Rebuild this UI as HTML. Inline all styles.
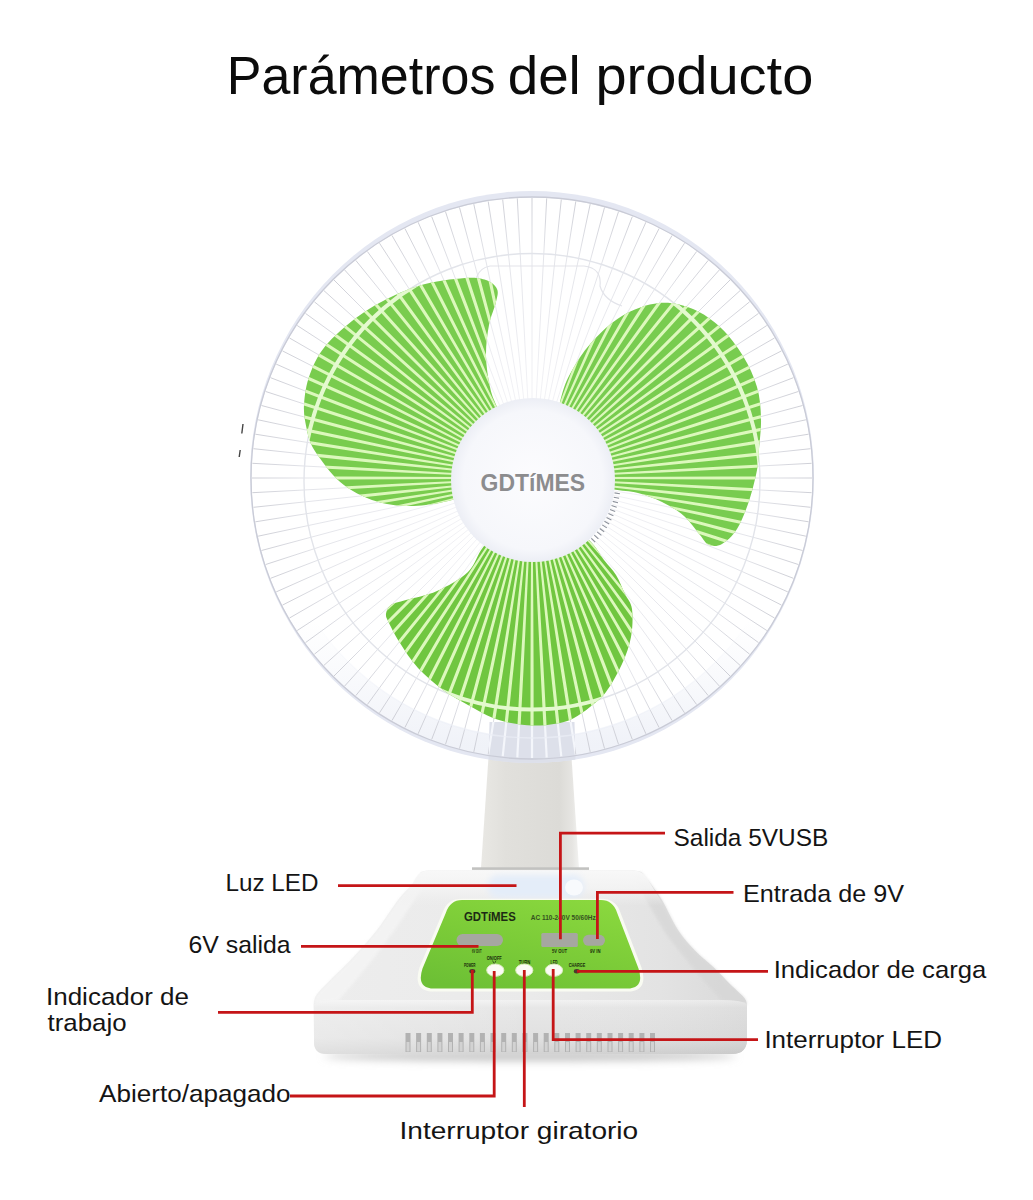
<!DOCTYPE html>
<html><head><meta charset="utf-8"><title>Parámetros del producto</title>
<style>html,body{margin:0;padding:0;background:#fff;}body{width:1033px;height:1200px;overflow:hidden;font-family:"Liberation Sans",sans-serif;}svg{display:block}</style>
</head><body>
<svg width="1033" height="1200" viewBox="0 0 1033 1200">
<defs>
<clipPath id="blades"><path d="M512.0 440.0 C513.2 426.5 500.7 415.8 497.0 407.0 C493.3 398.2 491.8 395.5 490.0 387.0 C488.2 378.5 486.2 366.3 486.0 356.0 C485.8 345.7 487.3 334.0 489.0 325.0 C490.7 316.0 494.7 308.0 496.0 302.0 C497.3 296.0 498.7 292.7 497.0 289.0 C495.3 285.3 491.3 281.8 486.0 280.0 C480.7 278.2 476.3 277.0 465.0 278.0 C453.7 279.0 434.0 280.8 418.0 286.0 C402.0 291.2 384.0 299.5 369.0 309.0 C354.0 318.5 337.8 332.2 328.0 343.0 C318.2 353.8 314.0 363.7 310.0 374.0 C306.0 384.3 304.6 396.0 304.0 405.0 C303.4 414.0 305.3 421.5 306.5 428.0 C307.7 434.5 308.9 439.2 311.0 444.0 C313.1 448.8 315.3 451.8 319.0 457.0 C322.7 462.2 328.2 469.8 333.0 475.0 C337.8 480.2 342.3 484.2 348.0 488.0 C353.7 491.8 360.5 495.3 367.0 498.0 C373.5 500.7 380.5 502.7 387.0 504.0 C393.5 505.3 399.5 505.8 406.0 506.0 C412.5 506.2 418.3 506.0 426.0 505.0 C433.7 504.0 441.3 502.8 452.0 500.0 C462.7 497.2 480.0 498.0 490.0 488.0 C500.0 478.0 510.8 453.5 512.0 440.0Z"/><path d="M552.0 445.0 C549.5 432.0 557.0 413.8 560.0 402.0 C563.0 390.2 564.8 383.8 570.0 374.0 C575.2 364.2 582.3 352.7 591.0 343.0 C599.7 333.3 610.7 322.7 622.0 316.0 C633.3 309.3 647.2 304.2 659.0 303.0 C670.8 301.8 682.7 304.8 693.0 309.0 C703.3 313.2 712.7 320.2 721.0 328.0 C729.3 335.8 737.0 346.2 743.0 356.0 C749.0 365.8 754.0 376.7 757.0 387.0 C760.0 397.3 760.7 407.7 761.0 418.0 C761.3 428.3 759.7 440.3 759.0 449.0 C758.3 457.7 758.7 461.3 757.0 470.0 C755.3 478.7 752.3 491.2 749.0 501.0 C745.7 510.8 741.5 521.8 737.0 529.0 C732.5 536.2 726.7 541.3 722.0 544.0 C717.3 546.7 712.7 546.5 709.0 545.0 C705.3 543.5 704.2 539.8 700.0 535.0 C695.8 530.2 690.3 521.5 684.0 516.0 C677.7 510.5 669.7 505.8 662.0 502.0 C654.3 498.2 646.3 495.2 638.0 493.0 C629.7 490.8 622.5 491.2 612.0 489.0 C601.5 486.8 585.0 487.3 575.0 480.0 C565.0 472.7 554.5 458.0 552.0 445.0Z"/><path d="M515.0 515.0 C502.3 520.2 491.8 536.5 484.0 546.0 C476.2 555.5 475.8 564.5 468.0 572.0 C460.2 579.5 447.3 586.3 437.0 591.0 C426.7 595.7 413.7 597.7 406.0 600.0 C398.3 602.3 394.3 602.7 391.0 605.0 C387.7 607.3 386.3 611.0 386.0 614.0 C385.7 617.0 386.7 618.2 389.0 623.0 C391.3 627.8 395.2 635.5 400.0 643.0 C404.8 650.5 410.8 660.2 418.0 668.0 C425.2 675.8 434.7 683.8 443.0 690.0 C451.3 696.2 459.7 700.3 468.0 705.0 C476.3 709.7 484.8 714.8 493.0 718.0 C501.2 721.2 509.2 722.8 517.0 724.0 C524.8 725.2 532.8 725.7 540.0 725.5 C547.2 725.3 554.3 724.2 560.0 723.0 C565.7 721.8 569.0 720.7 574.0 718.0 C579.0 715.3 584.7 711.3 590.0 707.0 C595.3 702.7 600.7 699.2 606.0 692.0 C611.3 684.8 617.8 673.2 622.0 664.0 C626.2 654.8 629.3 646.2 631.0 637.0 C632.7 627.8 633.0 616.2 632.0 609.0 C631.0 601.8 627.7 599.7 625.0 594.0 C622.3 588.3 619.5 580.7 616.0 575.0 C612.5 569.3 608.3 565.7 604.0 560.0 C599.7 554.3 597.3 548.5 590.0 541.0 C582.7 533.5 572.5 519.3 560.0 515.0 C547.5 510.7 527.7 509.8 515.0 515.0Z"/></clipPath>
<clipPath id="grillclip"><ellipse cx="532" cy="477.0" rx="282.0" ry="286.0"/></clipPath>
<clipPath id="patch"><path d="M489.5 722 L574.5 722 L575.5 766 L488.5 766 Z"/></clipPath>
<radialGradient id="lg" gradientUnits="userSpaceOnUse" cx="532" cy="478" r="281"><stop offset="0.3" stop-color="#f0f0f4"/><stop offset="0.8" stop-color="#e0e1e7"/><stop offset="1" stop-color="#c8c9d1"/></radialGradient>
<linearGradient id="neck" x1="0" x2="1" y1="0" y2="0"><stop offset="0" stop-color="#e9e8e4"/><stop offset="0.25" stop-color="#e1e0dc"/><stop offset="0.8" stop-color="#dcdbd7"/><stop offset="0.93" stop-color="#e6e5e2"/><stop offset="1" stop-color="#f2f2f0"/></linearGradient>
<linearGradient id="basetop" gradientUnits="userSpaceOnUse" x1="314" x2="747" y1="0" y2="0"><stop offset="0" stop-color="#ededed"/><stop offset="0.5" stop-color="#eaeaea"/><stop offset="0.8" stop-color="#e3e3e3"/><stop offset="1" stop-color="#d9d9d9"/></linearGradient>
<linearGradient id="plate" x1="0" x2="0" y1="0" y2="1"><stop offset="0" stop-color="#f8f8f8"/><stop offset="0.5" stop-color="#f4f4f4" stop-opacity="0.9"/><stop offset="1" stop-color="#f0f0f0" stop-opacity="0"/></linearGradient>
<linearGradient id="basefront" x1="0" x2="0" y1="0" y2="1"><stop offset="0" stop-color="#f2f2f2"/><stop offset="0.14" stop-color="#e7e7e7"/><stop offset="0.7" stop-color="#e1e1e1"/><stop offset="1" stop-color="#d2d2d2"/></linearGradient>
<linearGradient id="frontshade" gradientUnits="userSpaceOnUse" x1="314" x2="747" y1="0" y2="0"><stop offset="0" stop-color="#ffffff" stop-opacity="0.3"/><stop offset="0.5" stop-color="#ffffff" stop-opacity="0"/><stop offset="1" stop-color="#000000" stop-opacity="0.04"/></linearGradient>
<linearGradient id="panel" x1="0.2" x2="0.8" y1="1" y2="0"><stop offset="0" stop-color="#6dc035"/><stop offset="0.5" stop-color="#7ccc38"/><stop offset="1" stop-color="#8ad83e"/></linearGradient>
<radialGradient id="hub" cx="0.5" cy="0.5" r="0.5"><stop offset="0" stop-color="#fcfcfe"/><stop offset="0.85" stop-color="#f6f7fb"/><stop offset="1" stop-color="#eceef5"/></radialGradient>
<linearGradient id="band" gradientUnits="userSpaceOnUse" x1="0" x2="0" y1="620" y2="745"><stop offset="0" stop-color="#eef1f8" stop-opacity="0"/><stop offset="1" stop-color="#ebeef6" stop-opacity="0.75"/></linearGradient>
<filter id="blur3" x="-20%" y="-200%" width="140%" height="500%"><feGaussianBlur stdDeviation="4"/></filter>
<filter id="blur2" x="-20%" y="-50%" width="140%" height="200%"><feGaussianBlur stdDeviation="3"/></filter>
<filter id="blur1" x="-20%" y="-50%" width="140%" height="200%"><feGaussianBlur stdDeviation="1.5"/></filter>
</defs>
<rect width="1033" height="1200" fill="#ffffff"/>
<path d="M490 735 L570 735 L579 868 L481 868 Z" fill="url(#neck)"/>
<ellipse cx="532" cy="477" rx="282" ry="286" fill="#e4e7f2"/>
<ellipse cx="532" cy="478" rx="280.5" ry="280.5" fill="#ffffff"/>
<ellipse cx="532" cy="478" rx="260" ry="260" fill="#ffffff"/>
<ellipse cx="532" cy="478" rx="270.5" ry="270.5" fill="none" stroke="url(#band)" stroke-width="21"/>
<g clip-path="url(#grillclip)"><path d="M489.5 722 L574.5 722 L575.5 766 L488.5 766 Z" fill="#dde0ea"/></g>
<path d="M478 300 Q470 270 490 266 L584 266 Q602 268 600 286 Q604 300 622 306" fill="none" stroke="#e3e4ea" stroke-width="1.2"/>
<path d="M532.0 412.0 L532.0 198.0M535.5 412.1 L546.7 198.4M538.9 412.4 L561.3 199.5M542.3 412.8 L575.8 201.4M545.7 413.4 L590.2 204.1M549.1 414.2 L604.5 207.5M552.4 415.2 L618.5 211.7M555.7 416.4 L632.3 216.6M558.8 417.7 L645.9 222.2M562.0 419.2 L659.1 228.5M565.0 420.8 L672.0 235.5M567.9 422.6 L684.5 243.2M570.8 424.6 L696.6 251.5M573.5 426.7 L708.2 260.4M576.2 429.0 L719.4 269.9M578.7 431.3 L730.0 280.0M581.0 433.8 L740.1 290.6M583.3 436.5 L749.6 301.8M585.4 439.2 L758.5 313.4M587.4 442.1 L766.8 325.5M589.2 445.0 L774.5 338.0M590.8 448.0 L781.5 350.9M592.3 451.2 L787.8 364.1M593.6 454.3 L793.4 377.7M594.8 457.6 L798.3 391.5M595.8 460.9 L802.5 405.5M596.6 464.3 L805.9 419.8M597.2 467.7 L808.6 434.2M597.6 471.1 L810.5 448.7M597.9 474.5 L811.6 463.3M598.0 478.0 L812.0 478.0M597.9 481.5 L811.6 492.7M597.6 484.9 L810.5 507.3M597.2 488.3 L808.6 521.8M596.6 491.7 L805.9 536.2M595.8 495.1 L802.5 550.5M594.8 498.4 L798.3 564.5M593.6 501.7 L793.4 578.3M592.3 504.8 L787.8 591.9M590.8 508.0 L781.5 605.1M589.2 511.0 L774.5 618.0M587.4 513.9 L766.8 630.5M585.4 516.8 L758.5 642.6M583.3 519.5 L749.6 654.2M581.0 522.2 L740.1 665.4M578.7 524.7 L730.0 676.0M576.2 527.0 L719.4 686.1M573.5 529.3 L708.2 695.6M570.8 531.4 L696.6 704.5M567.9 533.4 L684.5 712.8M565.0 535.2 L672.0 720.5M562.0 536.8 L659.1 727.5M558.8 538.3 L645.9 733.8M555.7 539.6 L632.3 739.4M552.4 540.8 L618.5 744.3M549.1 541.8 L604.5 748.5M545.7 542.6 L590.2 751.9M542.3 543.2 L575.8 754.6M538.9 543.6 L561.3 756.5M535.5 543.9 L546.7 757.6M532.0 544.0 L532.0 758.0M528.5 543.9 L517.3 757.6M525.1 543.6 L502.7 756.5M521.7 543.2 L488.2 754.6M518.3 542.6 L473.8 751.9M514.9 541.8 L459.5 748.5M511.6 540.8 L445.5 744.3M508.3 539.6 L431.7 739.4M505.2 538.3 L418.1 733.8M502.0 536.8 L404.9 727.5M499.0 535.2 L392.0 720.5M496.1 533.4 L379.5 712.8M493.2 531.4 L367.4 704.5M490.5 529.3 L355.8 695.6M487.8 527.0 L344.6 686.1M485.3 524.7 L334.0 676.0M483.0 522.2 L323.9 665.4M480.7 519.5 L314.4 654.2M478.6 516.8 L305.5 642.6M476.6 513.9 L297.2 630.5M474.8 511.0 L289.5 618.0M473.2 508.0 L282.5 605.1M471.7 504.8 L276.2 591.9M470.4 501.7 L270.6 578.3M469.2 498.4 L265.7 564.5M468.2 495.1 L261.5 550.5M467.4 491.7 L258.1 536.2M466.8 488.3 L255.4 521.8M466.4 484.9 L253.5 507.3M466.1 481.5 L252.4 492.7M466.0 478.0 L252.0 478.0M466.1 474.5 L252.4 463.3M466.4 471.1 L253.5 448.7M466.8 467.7 L255.4 434.2M467.4 464.3 L258.1 419.8M468.2 460.9 L261.5 405.5M469.2 457.6 L265.7 391.5M470.4 454.3 L270.6 377.7M471.7 451.2 L276.2 364.1M473.2 448.0 L282.5 350.9M474.8 445.0 L289.5 338.0M476.6 442.1 L297.2 325.5M478.6 439.2 L305.5 313.4M480.7 436.5 L314.4 301.8M483.0 433.8 L323.9 290.6M485.3 431.3 L334.0 280.0M487.8 429.0 L344.6 269.9M490.5 426.7 L355.8 260.4M493.2 424.6 L367.4 251.5M496.1 422.6 L379.5 243.2M499.0 420.8 L392.0 235.5M502.0 419.2 L404.9 228.5M505.2 417.7 L418.1 222.2M508.3 416.4 L431.7 216.6M511.6 415.2 L445.5 211.7M514.9 414.2 L459.5 207.5M518.3 413.4 L473.8 204.1M521.7 412.8 L488.2 201.4M525.1 412.4 L502.7 199.5M528.5 412.1 L517.3 198.4" stroke="url(#lg)" stroke-width="0.9" fill="none"/>
<g clip-path="url(#grillclip)"><g clip-path="url(#patch)"><path d="M532.0 412.0 L532.0 198.0M535.5 412.1 L546.7 198.4M538.9 412.4 L561.3 199.5M542.3 412.8 L575.8 201.4M545.7 413.4 L590.2 204.1M549.1 414.2 L604.5 207.5M552.4 415.2 L618.5 211.7M555.7 416.4 L632.3 216.6M558.8 417.7 L645.9 222.2M562.0 419.2 L659.1 228.5M565.0 420.8 L672.0 235.5M567.9 422.6 L684.5 243.2M570.8 424.6 L696.6 251.5M573.5 426.7 L708.2 260.4M576.2 429.0 L719.4 269.9M578.7 431.3 L730.0 280.0M581.0 433.8 L740.1 290.6M583.3 436.5 L749.6 301.8M585.4 439.2 L758.5 313.4M587.4 442.1 L766.8 325.5M589.2 445.0 L774.5 338.0M590.8 448.0 L781.5 350.9M592.3 451.2 L787.8 364.1M593.6 454.3 L793.4 377.7M594.8 457.6 L798.3 391.5M595.8 460.9 L802.5 405.5M596.6 464.3 L805.9 419.8M597.2 467.7 L808.6 434.2M597.6 471.1 L810.5 448.7M597.9 474.5 L811.6 463.3M598.0 478.0 L812.0 478.0M597.9 481.5 L811.6 492.7M597.6 484.9 L810.5 507.3M597.2 488.3 L808.6 521.8M596.6 491.7 L805.9 536.2M595.8 495.1 L802.5 550.5M594.8 498.4 L798.3 564.5M593.6 501.7 L793.4 578.3M592.3 504.8 L787.8 591.9M590.8 508.0 L781.5 605.1M589.2 511.0 L774.5 618.0M587.4 513.9 L766.8 630.5M585.4 516.8 L758.5 642.6M583.3 519.5 L749.6 654.2M581.0 522.2 L740.1 665.4M578.7 524.7 L730.0 676.0M576.2 527.0 L719.4 686.1M573.5 529.3 L708.2 695.6M570.8 531.4 L696.6 704.5M567.9 533.4 L684.5 712.8M565.0 535.2 L672.0 720.5M562.0 536.8 L659.1 727.5M558.8 538.3 L645.9 733.8M555.7 539.6 L632.3 739.4M552.4 540.8 L618.5 744.3M549.1 541.8 L604.5 748.5M545.7 542.6 L590.2 751.9M542.3 543.2 L575.8 754.6M538.9 543.6 L561.3 756.5M535.5 543.9 L546.7 757.6M532.0 544.0 L532.0 758.0M528.5 543.9 L517.3 757.6M525.1 543.6 L502.7 756.5M521.7 543.2 L488.2 754.6M518.3 542.6 L473.8 751.9M514.9 541.8 L459.5 748.5M511.6 540.8 L445.5 744.3M508.3 539.6 L431.7 739.4M505.2 538.3 L418.1 733.8M502.0 536.8 L404.9 727.5M499.0 535.2 L392.0 720.5M496.1 533.4 L379.5 712.8M493.2 531.4 L367.4 704.5M490.5 529.3 L355.8 695.6M487.8 527.0 L344.6 686.1M485.3 524.7 L334.0 676.0M483.0 522.2 L323.9 665.4M480.7 519.5 L314.4 654.2M478.6 516.8 L305.5 642.6M476.6 513.9 L297.2 630.5M474.8 511.0 L289.5 618.0M473.2 508.0 L282.5 605.1M471.7 504.8 L276.2 591.9M470.4 501.7 L270.6 578.3M469.2 498.4 L265.7 564.5M468.2 495.1 L261.5 550.5M467.4 491.7 L258.1 536.2M466.8 488.3 L255.4 521.8M466.4 484.9 L253.5 507.3M466.1 481.5 L252.4 492.7M466.0 478.0 L252.0 478.0M466.1 474.5 L252.4 463.3M466.4 471.1 L253.5 448.7M466.8 467.7 L255.4 434.2M467.4 464.3 L258.1 419.8M468.2 460.9 L261.5 405.5M469.2 457.6 L265.7 391.5M470.4 454.3 L270.6 377.7M471.7 451.2 L276.2 364.1M473.2 448.0 L282.5 350.9M474.8 445.0 L289.5 338.0M476.6 442.1 L297.2 325.5M478.6 439.2 L305.5 313.4M480.7 436.5 L314.4 301.8M483.0 433.8 L323.9 290.6M485.3 431.3 L334.0 280.0M487.8 429.0 L344.6 269.9M490.5 426.7 L355.8 260.4M493.2 424.6 L367.4 251.5M496.1 422.6 L379.5 243.2M499.0 420.8 L392.0 235.5M502.0 419.2 L404.9 228.5M505.2 417.7 L418.1 222.2M508.3 416.4 L431.7 216.6M511.6 415.2 L445.5 211.7M514.9 414.2 L459.5 207.5M518.3 413.4 L473.8 204.1M521.7 412.8 L488.2 201.4M525.1 412.4 L502.7 199.5M528.5 412.1 L517.3 198.4" stroke="#f4f6fb" stroke-width="2.2" fill="none"/></g></g>
<circle cx="532" cy="481.5" r="228" fill="none" stroke="#e2e4ea" stroke-width="1.4"/>
<ellipse cx="532" cy="478" rx="260" ry="260" fill="none" stroke="url(#band)" stroke-width="1.4"/>
<path d="M512.0 440.0 C513.2 426.5 500.7 415.8 497.0 407.0 C493.3 398.2 491.8 395.5 490.0 387.0 C488.2 378.5 486.2 366.3 486.0 356.0 C485.8 345.7 487.3 334.0 489.0 325.0 C490.7 316.0 494.7 308.0 496.0 302.0 C497.3 296.0 498.7 292.7 497.0 289.0 C495.3 285.3 491.3 281.8 486.0 280.0 C480.7 278.2 476.3 277.0 465.0 278.0 C453.7 279.0 434.0 280.8 418.0 286.0 C402.0 291.2 384.0 299.5 369.0 309.0 C354.0 318.5 337.8 332.2 328.0 343.0 C318.2 353.8 314.0 363.7 310.0 374.0 C306.0 384.3 304.6 396.0 304.0 405.0 C303.4 414.0 305.3 421.5 306.5 428.0 C307.7 434.5 308.9 439.2 311.0 444.0 C313.1 448.8 315.3 451.8 319.0 457.0 C322.7 462.2 328.2 469.8 333.0 475.0 C337.8 480.2 342.3 484.2 348.0 488.0 C353.7 491.8 360.5 495.3 367.0 498.0 C373.5 500.7 380.5 502.7 387.0 504.0 C393.5 505.3 399.5 505.8 406.0 506.0 C412.5 506.2 418.3 506.0 426.0 505.0 C433.7 504.0 441.3 502.8 452.0 500.0 C462.7 497.2 480.0 498.0 490.0 488.0 C500.0 478.0 510.8 453.5 512.0 440.0Z" fill="#79cc4e"/>
<path d="M552.0 445.0 C549.5 432.0 557.0 413.8 560.0 402.0 C563.0 390.2 564.8 383.8 570.0 374.0 C575.2 364.2 582.3 352.7 591.0 343.0 C599.7 333.3 610.7 322.7 622.0 316.0 C633.3 309.3 647.2 304.2 659.0 303.0 C670.8 301.8 682.7 304.8 693.0 309.0 C703.3 313.2 712.7 320.2 721.0 328.0 C729.3 335.8 737.0 346.2 743.0 356.0 C749.0 365.8 754.0 376.7 757.0 387.0 C760.0 397.3 760.7 407.7 761.0 418.0 C761.3 428.3 759.7 440.3 759.0 449.0 C758.3 457.7 758.7 461.3 757.0 470.0 C755.3 478.7 752.3 491.2 749.0 501.0 C745.7 510.8 741.5 521.8 737.0 529.0 C732.5 536.2 726.7 541.3 722.0 544.0 C717.3 546.7 712.7 546.5 709.0 545.0 C705.3 543.5 704.2 539.8 700.0 535.0 C695.8 530.2 690.3 521.5 684.0 516.0 C677.7 510.5 669.7 505.8 662.0 502.0 C654.3 498.2 646.3 495.2 638.0 493.0 C629.7 490.8 622.5 491.2 612.0 489.0 C601.5 486.8 585.0 487.3 575.0 480.0 C565.0 472.7 554.5 458.0 552.0 445.0Z" fill="#78cc4f"/>
<path d="M515.0 515.0 C502.3 520.2 491.8 536.5 484.0 546.0 C476.2 555.5 475.8 564.5 468.0 572.0 C460.2 579.5 447.3 586.3 437.0 591.0 C426.7 595.7 413.7 597.7 406.0 600.0 C398.3 602.3 394.3 602.7 391.0 605.0 C387.7 607.3 386.3 611.0 386.0 614.0 C385.7 617.0 386.7 618.2 389.0 623.0 C391.3 627.8 395.2 635.5 400.0 643.0 C404.8 650.5 410.8 660.2 418.0 668.0 C425.2 675.8 434.7 683.8 443.0 690.0 C451.3 696.2 459.7 700.3 468.0 705.0 C476.3 709.7 484.8 714.8 493.0 718.0 C501.2 721.2 509.2 722.8 517.0 724.0 C524.8 725.2 532.8 725.7 540.0 725.5 C547.2 725.3 554.3 724.2 560.0 723.0 C565.7 721.8 569.0 720.7 574.0 718.0 C579.0 715.3 584.7 711.3 590.0 707.0 C595.3 702.7 600.7 699.2 606.0 692.0 C611.3 684.8 617.8 673.2 622.0 664.0 C626.2 654.8 629.3 646.2 631.0 637.0 C632.7 627.8 633.0 616.2 632.0 609.0 C631.0 601.8 627.7 599.7 625.0 594.0 C622.3 588.3 619.5 580.7 616.0 575.0 C612.5 569.3 608.3 565.7 604.0 560.0 C599.7 554.3 597.3 548.5 590.0 541.0 C582.7 533.5 572.5 519.3 560.0 515.0 C547.5 510.7 527.7 509.8 515.0 515.0Z" fill="#70c640"/>
<g clip-path="url(#blades)" fill="none">
<path d="M532.9 408.0 L533.3 348.0 L533.5 288.0 L533.6 195.0 L530.4 195.0 L530.5 288.0 L530.7 348.0 L531.1 408.0ZM536.6 408.1 L540.1 348.2 L543.5 288.3 L548.4 195.5 L545.2 195.3 L540.4 288.2 L537.5 348.1 L534.8 408.0ZM540.2 408.5 L546.9 348.8 L553.4 289.2 L563.2 196.7 L560.0 196.4 L550.3 288.9 L544.3 348.6 L538.4 408.3ZM543.8 409.0 L553.6 349.8 L563.3 290.6 L577.9 198.7 L574.7 198.2 L560.2 290.1 L551.1 349.4 L542.1 408.7ZM547.4 409.7 L560.3 351.1 L573.0 292.5 L592.4 201.5 L589.3 200.9 L570.0 291.8 L557.8 350.6 L545.7 409.3ZM551.0 410.6 L566.9 352.8 L582.7 294.9 L606.8 205.1 L603.7 204.2 L579.7 294.1 L564.4 352.1 L549.2 410.2ZM554.5 411.7 L573.4 354.8 L592.2 297.8 L621.0 209.3 L617.9 208.4 L589.2 296.8 L570.9 354.0 L552.8 411.1ZM557.9 413.0 L579.8 357.1 L601.5 301.2 L634.9 214.4 L631.9 213.2 L598.6 300.1 L577.4 356.2 L556.2 412.3ZM561.3 414.4 L586.1 359.8 L610.7 305.1 L648.6 220.1 L645.6 218.8 L607.9 303.8 L583.7 358.7 L559.6 413.7ZM564.6 416.0 L592.2 362.8 L619.6 309.4 L661.9 226.6 L659.1 225.1 L616.9 308.0 L589.9 361.6 L563.0 415.2ZM567.8 417.8 L598.1 366.1 L628.3 314.2 L674.9 233.7 L672.1 232.1 L625.7 312.7 L595.9 364.8 L566.2 416.9ZM570.9 419.8 L603.9 369.7 L636.8 319.5 L687.5 241.5 L684.8 239.8 L634.2 317.8 L601.7 368.3 L569.4 418.8ZM573.9 421.9 L609.5 373.6 L644.9 325.2 L699.6 250.0 L697.0 248.1 L642.4 323.4 L607.4 372.1 L572.4 420.8ZM576.8 424.2 L614.8 377.8 L652.8 331.3 L711.3 259.1 L708.9 257.1 L650.4 329.4 L612.8 376.2 L575.4 423.0ZM579.5 426.6 L620.0 382.3 L660.3 337.8 L722.6 268.8 L720.2 266.6 L658.0 335.8 L618.0 380.5 L578.2 425.4ZM582.1 429.1 L624.8 387.0 L667.4 344.7 L733.2 279.0 L731.0 276.8 L665.3 342.6 L623.0 385.2 L580.9 427.9ZM584.6 431.8 L629.5 392.0 L674.2 352.0 L743.4 289.8 L741.2 287.4 L672.2 349.7 L627.7 390.0 L583.4 430.5ZM587.0 434.6 L633.8 397.2 L680.6 359.6 L752.9 301.1 L750.9 298.7 L678.7 357.2 L632.2 395.2 L585.8 433.2ZM589.2 437.6 L637.9 402.6 L686.6 367.6 L761.9 313.0 L760.0 310.4 L684.8 365.1 L636.4 400.5 L588.1 436.1ZM591.2 440.6 L641.7 408.3 L692.2 375.8 L770.2 325.2 L768.5 322.5 L690.5 373.2 L640.3 406.1 L590.2 439.1ZM593.1 443.8 L645.2 414.1 L697.3 384.3 L777.9 337.9 L776.3 335.1 L695.8 381.7 L643.9 411.9 L592.2 442.2ZM594.8 447.0 L648.4 420.1 L702.0 393.1 L784.9 350.9 L783.4 348.1 L700.6 390.4 L647.2 417.8 L594.0 445.4ZM596.3 450.4 L651.3 426.3 L706.2 402.1 L791.2 364.4 L789.9 361.4 L704.9 399.3 L650.2 423.9 L595.6 448.7ZM597.7 453.8 L653.8 432.6 L709.9 411.4 L796.8 378.1 L795.6 375.1 L708.8 408.5 L652.9 430.2 L597.0 452.1ZM598.9 457.2 L656.0 439.1 L713.2 420.8 L801.6 392.1 L800.7 389.0 L712.2 417.8 L655.2 436.6 L598.3 455.5ZM599.8 460.8 L657.9 445.6 L715.9 430.3 L805.8 406.3 L804.9 403.2 L715.1 427.3 L657.2 443.1 L599.4 459.0ZM600.7 464.3 L659.4 452.2 L718.2 440.0 L809.1 420.7 L808.5 417.6 L717.5 437.0 L658.9 449.7 L600.3 462.6ZM601.3 467.9 L660.6 458.9 L719.9 449.8 L811.8 435.3 L811.3 432.1 L719.4 446.7 L660.2 456.4 L601.0 466.2ZM601.7 471.6 L661.4 465.7 L721.1 459.7 L813.6 450.0 L813.3 446.8 L720.8 456.6 L661.2 463.1 L601.5 469.8ZM602.0 475.2 L661.9 472.5 L721.8 469.6 L814.7 464.8 L814.5 461.6 L721.7 466.5 L661.8 469.9 L601.9 473.4ZM602.0 478.9 L662.0 479.3 L722.0 479.5 L815.0 479.6 L815.0 476.4 L722.0 476.4 L662.0 476.7 L602.0 477.1ZM601.9 482.6 L661.8 486.1 L721.7 489.5 L814.5 494.4 L814.7 491.2 L721.8 486.4 L661.9 483.5 L602.0 480.8ZM601.5 486.2 L661.2 492.9 L720.8 499.4 L813.3 509.2 L813.6 506.0 L721.1 496.3 L661.4 490.3 L601.7 484.4ZM601.0 489.8 L660.2 499.6 L719.4 509.3 L811.3 523.9 L811.8 520.7 L719.9 506.2 L660.6 497.1 L601.3 488.1ZM600.3 493.4 L658.9 506.3 L717.5 519.0 L808.5 538.4 L809.1 535.3 L718.2 516.0 L659.4 503.8 L600.7 491.7ZM599.4 497.0 L657.2 512.9 L715.1 528.7 L804.9 552.8 L805.8 549.7 L715.9 525.7 L657.9 510.4 L599.8 495.2ZM598.3 500.5 L655.2 519.4 L712.2 538.2 L800.7 567.0 L801.6 563.9 L713.2 535.2 L656.0 516.9 L598.9 498.8ZM597.0 503.9 L652.9 525.8 L708.8 547.5 L795.6 580.9 L796.8 577.9 L709.9 544.6 L653.8 523.4 L597.7 502.2ZM595.6 507.3 L650.2 532.1 L704.9 556.7 L789.9 594.6 L791.2 591.6 L706.2 553.9 L651.3 529.7 L596.3 505.6ZM594.0 510.6 L647.2 538.2 L700.6 565.6 L783.4 607.9 L784.9 605.1 L702.0 562.9 L648.4 535.9 L594.8 509.0ZM592.2 513.8 L643.9 544.1 L695.8 574.3 L776.3 620.9 L777.9 618.1 L697.3 571.7 L645.2 541.9 L593.1 512.2ZM590.2 516.9 L640.3 549.9 L690.5 582.8 L768.5 633.5 L770.2 630.8 L692.2 580.2 L641.7 547.7 L591.2 515.4ZM588.1 519.9 L636.4 555.5 L684.8 590.9 L760.0 645.6 L761.9 643.0 L686.6 588.4 L637.9 553.4 L589.2 518.4ZM585.8 522.8 L632.2 560.8 L678.7 598.8 L750.9 657.3 L752.9 654.9 L680.6 596.4 L633.8 558.8 L587.0 521.4ZM583.4 525.5 L627.7 566.0 L672.2 606.3 L741.2 668.6 L743.4 666.2 L674.2 604.0 L629.5 564.0 L584.6 524.2ZM580.9 528.1 L623.0 570.8 L665.3 613.4 L731.0 679.2 L733.2 677.0 L667.4 611.3 L624.8 569.0 L582.1 526.9ZM578.2 530.6 L618.0 575.5 L658.0 620.2 L720.2 689.4 L722.6 687.2 L660.3 618.2 L620.0 573.7 L579.5 529.4ZM575.4 533.0 L612.8 579.8 L650.4 626.6 L708.9 698.9 L711.3 696.9 L652.8 624.7 L614.8 578.2 L576.8 531.8ZM572.4 535.2 L607.4 583.9 L642.4 632.6 L697.0 707.9 L699.6 706.0 L644.9 630.8 L609.5 582.4 L573.9 534.1ZM569.4 537.2 L601.7 587.7 L634.2 638.2 L684.8 716.2 L687.5 714.5 L636.8 636.5 L603.9 586.3 L570.9 536.2ZM566.2 539.1 L595.9 591.2 L625.7 643.3 L672.1 723.9 L674.9 722.3 L628.3 641.8 L598.1 589.9 L567.8 538.2ZM563.0 540.8 L589.9 594.4 L616.9 648.0 L659.1 730.9 L661.9 729.4 L619.6 646.6 L592.2 593.2 L564.6 540.0ZM559.6 542.3 L583.7 597.3 L607.9 652.2 L645.6 737.2 L648.6 735.9 L610.7 650.9 L586.1 596.2 L561.3 541.6ZM556.2 543.7 L577.4 599.8 L598.6 655.9 L631.9 742.8 L634.9 741.6 L601.5 654.8 L579.8 598.9 L557.9 543.0ZM552.8 544.9 L570.9 602.0 L589.2 659.2 L617.9 747.6 L621.0 746.7 L592.2 658.2 L573.4 601.2 L554.5 544.3ZM549.2 545.8 L564.4 603.9 L579.7 661.9 L603.7 751.8 L606.8 750.9 L582.7 661.1 L566.9 603.2 L551.0 545.4ZM545.7 546.7 L557.8 605.4 L570.0 664.2 L589.3 755.1 L592.4 754.5 L573.0 663.5 L560.3 604.9 L547.4 546.3ZM542.1 547.3 L551.1 606.6 L560.2 665.9 L574.7 757.8 L577.9 757.3 L563.3 665.4 L553.6 606.2 L543.8 547.0ZM538.4 547.7 L544.3 607.4 L550.3 667.1 L560.0 759.6 L563.2 759.3 L553.4 666.8 L546.9 607.2 L540.2 547.5ZM534.8 548.0 L537.5 607.9 L540.4 667.8 L545.2 760.7 L548.4 760.5 L543.5 667.7 L540.1 607.8 L536.6 547.9ZM531.1 548.0 L530.7 608.0 L530.5 668.0 L530.4 761.0 L533.6 761.0 L533.6 668.0 L533.3 608.0 L532.9 548.0ZM527.4 547.9 L523.9 607.8 L520.5 667.7 L515.6 760.5 L518.8 760.7 L523.6 667.8 L526.5 607.9 L529.2 548.0ZM523.8 547.5 L517.1 607.2 L510.6 666.8 L500.8 759.3 L504.0 759.6 L513.7 667.1 L519.7 607.4 L525.6 547.7ZM520.2 547.0 L510.4 606.2 L500.7 665.4 L486.1 757.3 L489.3 757.8 L503.8 665.9 L512.9 606.6 L521.9 547.3ZM516.6 546.3 L503.7 604.9 L491.0 663.5 L471.6 754.5 L474.7 755.1 L494.0 664.2 L506.2 605.4 L518.3 546.7ZM513.0 545.4 L497.1 603.2 L481.3 661.1 L457.2 750.9 L460.3 751.8 L484.3 661.9 L499.6 603.9 L514.8 545.8ZM509.5 544.3 L490.6 601.2 L471.8 658.2 L443.0 746.7 L446.1 747.6 L474.8 659.2 L493.1 602.0 L511.2 544.9ZM506.1 543.0 L484.2 598.9 L462.5 654.8 L429.1 741.6 L432.1 742.8 L465.4 655.9 L486.6 599.8 L507.8 543.7ZM502.7 541.6 L477.9 596.2 L453.3 650.9 L415.4 735.9 L418.4 737.2 L456.1 652.2 L480.3 597.3 L504.4 542.3ZM499.4 540.0 L471.8 593.2 L444.4 646.6 L402.1 729.4 L404.9 730.9 L447.1 648.0 L474.1 594.4 L501.0 540.8ZM496.2 538.2 L465.9 589.9 L435.7 641.8 L389.1 722.3 L391.9 723.9 L438.3 643.3 L468.1 591.2 L497.8 539.1ZM493.1 536.2 L460.1 586.3 L427.2 636.5 L376.5 714.5 L379.2 716.2 L429.8 638.2 L462.3 587.7 L494.6 537.2ZM490.1 534.1 L454.5 582.4 L419.1 630.8 L364.4 706.0 L367.0 707.9 L421.6 632.6 L456.6 583.9 L491.6 535.2ZM487.2 531.8 L449.2 578.2 L411.2 624.7 L352.7 696.9 L355.1 698.9 L413.6 626.6 L451.2 579.8 L488.6 533.0ZM484.5 529.4 L444.0 573.7 L403.7 618.2 L341.4 687.2 L343.8 689.4 L406.0 620.2 L446.0 575.5 L485.8 530.6ZM481.9 526.9 L439.2 569.0 L396.6 611.3 L330.8 677.0 L333.0 679.2 L398.7 613.4 L441.0 570.8 L483.1 528.1ZM479.4 524.2 L434.5 564.0 L389.8 604.0 L320.6 666.2 L322.8 668.6 L391.8 606.3 L436.3 566.0 L480.6 525.5ZM477.0 521.4 L430.2 558.8 L383.4 596.4 L311.1 654.9 L313.1 657.3 L385.3 598.8 L431.8 560.8 L478.2 522.8ZM474.8 518.4 L426.1 553.4 L377.4 588.4 L302.1 643.0 L304.0 645.6 L379.2 590.9 L427.6 555.5 L475.9 519.9ZM472.8 515.4 L422.3 547.7 L371.8 580.2 L293.8 630.8 L295.5 633.5 L373.5 582.8 L423.7 549.9 L473.8 516.9ZM470.9 512.2 L418.8 541.9 L366.7 571.7 L286.1 618.1 L287.7 620.9 L368.2 574.3 L420.1 544.1 L471.8 513.8ZM469.2 509.0 L415.6 535.9 L362.0 562.9 L279.1 605.1 L280.6 607.9 L363.4 565.6 L416.8 538.2 L470.0 510.6ZM467.7 505.6 L412.7 529.7 L357.8 553.9 L272.8 591.6 L274.1 594.6 L359.1 556.7 L413.8 532.1 L468.4 507.3ZM466.3 502.2 L410.2 523.4 L354.1 544.6 L267.2 577.9 L268.4 580.9 L355.2 547.5 L411.1 525.8 L467.0 503.9ZM465.1 498.8 L408.0 516.9 L350.8 535.2 L262.4 563.9 L263.3 567.0 L351.8 538.2 L408.8 519.4 L465.7 500.5ZM464.2 495.2 L406.1 510.4 L348.1 525.7 L258.2 549.7 L259.1 552.8 L348.9 528.7 L406.8 512.9 L464.6 497.0ZM463.3 491.7 L404.6 503.8 L345.8 516.0 L254.9 535.3 L255.5 538.4 L346.5 519.0 L405.1 506.3 L463.7 493.4ZM462.7 488.1 L403.4 497.1 L344.1 506.2 L252.2 520.7 L252.7 523.9 L344.6 509.3 L403.8 499.6 L463.0 489.8ZM462.3 484.4 L402.6 490.3 L342.9 496.3 L250.4 506.0 L250.7 509.2 L343.2 499.4 L402.8 492.9 L462.5 486.2ZM462.0 480.8 L402.1 483.5 L342.2 486.4 L249.3 491.2 L249.5 494.4 L342.3 489.5 L402.2 486.1 L462.1 482.6ZM462.0 477.1 L402.0 476.7 L342.0 476.5 L249.0 476.4 L249.0 479.6 L342.0 479.6 L402.0 479.3 L462.0 478.9ZM462.1 473.4 L402.2 469.9 L342.3 466.5 L249.5 461.6 L249.3 464.8 L342.2 469.6 L402.1 472.5 L462.0 475.2ZM462.5 469.8 L402.8 463.1 L343.2 456.6 L250.7 446.8 L250.4 450.0 L342.9 459.7 L402.6 465.7 L462.3 471.6ZM463.0 466.2 L403.8 456.4 L344.6 446.7 L252.7 432.1 L252.2 435.3 L344.1 449.8 L403.4 458.9 L462.7 467.9ZM463.7 462.6 L405.1 449.7 L346.5 437.0 L255.5 417.6 L254.9 420.7 L345.8 440.0 L404.6 452.2 L463.3 464.3ZM464.6 459.0 L406.8 443.1 L348.9 427.3 L259.1 403.2 L258.2 406.3 L348.1 430.3 L406.1 445.6 L464.2 460.8ZM465.7 455.5 L408.8 436.6 L351.8 417.8 L263.3 389.0 L262.4 392.1 L350.8 420.8 L408.0 439.1 L465.1 457.2ZM467.0 452.1 L411.1 430.2 L355.2 408.5 L268.4 375.1 L267.2 378.1 L354.1 411.4 L410.2 432.6 L466.3 453.8ZM468.4 448.7 L413.8 423.9 L359.1 399.3 L274.1 361.4 L272.8 364.4 L357.8 402.1 L412.7 426.3 L467.7 450.4ZM470.0 445.4 L416.8 417.8 L363.4 390.4 L280.6 348.1 L279.1 350.9 L362.0 393.1 L415.6 420.1 L469.2 447.0ZM471.8 442.2 L420.1 411.9 L368.2 381.7 L287.7 335.1 L286.1 337.9 L366.7 384.3 L418.8 414.1 L470.9 443.8ZM473.8 439.1 L423.7 406.1 L373.5 373.2 L295.5 322.5 L293.8 325.2 L371.8 375.8 L422.3 408.3 L472.8 440.6ZM475.9 436.1 L427.6 400.5 L379.2 365.1 L304.0 310.4 L302.1 313.0 L377.4 367.6 L426.1 402.6 L474.8 437.6ZM478.2 433.2 L431.8 395.2 L385.3 357.2 L313.1 298.7 L311.1 301.1 L383.4 359.6 L430.2 397.2 L477.0 434.6ZM480.6 430.5 L436.3 390.0 L391.8 349.7 L322.8 287.4 L320.6 289.8 L389.8 352.0 L434.5 392.0 L479.4 431.8ZM483.1 427.9 L441.0 385.2 L398.7 342.6 L333.0 276.8 L330.8 279.0 L396.6 344.7 L439.2 387.0 L481.9 429.1ZM485.8 425.4 L446.0 380.5 L406.0 335.8 L343.8 266.6 L341.4 268.8 L403.7 337.8 L444.0 382.3 L484.5 426.6ZM488.6 423.0 L451.2 376.2 L413.6 329.4 L355.1 257.1 L352.7 259.1 L411.2 331.3 L449.2 377.8 L487.2 424.2ZM491.6 420.8 L456.6 372.1 L421.6 323.4 L367.0 248.1 L364.4 250.0 L419.1 325.2 L454.5 373.6 L490.1 421.9ZM494.6 418.8 L462.3 368.3 L429.8 317.8 L379.2 239.8 L376.5 241.5 L427.2 319.5 L460.1 369.7 L493.1 419.8ZM497.8 416.9 L468.1 364.8 L438.3 312.7 L391.9 232.1 L389.1 233.7 L435.7 314.2 L465.9 366.1 L496.2 417.8ZM501.0 415.2 L474.1 361.6 L447.1 308.0 L404.9 225.1 L402.1 226.6 L444.4 309.4 L471.8 362.8 L499.4 416.0ZM504.4 413.7 L480.3 358.7 L456.1 303.8 L418.4 218.8 L415.4 220.1 L453.3 305.1 L477.9 359.8 L502.7 414.4ZM507.8 412.3 L486.6 356.2 L465.4 300.1 L432.1 213.2 L429.1 214.4 L462.5 301.2 L484.2 357.1 L506.1 413.0ZM511.2 411.1 L493.1 354.0 L474.8 296.8 L446.1 208.4 L443.0 209.3 L471.8 297.8 L490.6 354.8 L509.5 411.7ZM514.8 410.2 L499.6 352.1 L484.3 294.1 L460.3 204.2 L457.2 205.1 L481.3 294.9 L497.1 352.8 L513.0 410.6ZM518.3 409.3 L506.2 350.6 L494.0 291.8 L474.7 200.9 L471.6 201.5 L491.0 292.5 L503.7 351.1 L516.6 409.7ZM521.9 408.7 L512.9 349.4 L503.8 290.1 L489.3 198.2 L486.1 198.7 L500.7 290.6 L510.4 349.8 L520.2 409.0ZM525.6 408.3 L519.7 348.6 L513.7 288.9 L504.0 196.4 L500.8 196.7 L510.6 289.2 L517.1 348.8 L523.8 408.5ZM529.2 408.0 L526.5 348.1 L523.6 288.2 L518.8 195.3 L515.6 195.5 L520.5 288.3 L523.9 348.2 L527.4 408.1Z" fill="#dcf8bc" stroke="none"/>
<circle cx="532" cy="481.5" r="228" stroke="#e4f9cf" stroke-width="4"/>
</g>
<ellipse cx="532" cy="478" rx="281" ry="281" fill="none" stroke="#c9cbd6" stroke-width="1.3"/>
<path d="M243 424 L241.8 433.5 M240.2 450 L239.2 457" stroke="#444" stroke-width="1.4" fill="none"/>
<path d="M614.5 492.9 L619.9 493.8M613.7 497.2 L619.1 498.3M612.7 501.4 L618.0 502.8M611.5 505.5 L616.7 507.2M610.0 509.6 L615.2 511.5M608.4 513.6 L613.4 515.8M606.5 517.5 L611.4 520.0M604.4 521.2 L609.2 524.0M602.2 524.9 L606.8 527.9M599.7 528.5 L604.2 531.7M597.1 531.9 L601.4 535.4M594.3 535.2 L598.4 538.9M591.3 538.3 L595.2 542.2" stroke="#8d929c" stroke-width="1.1" fill="none"/>
<circle cx="533" cy="480" r="82" fill="url(#hub)"/>
<text x="480.6" y="491" font-family="Liberation Sans, sans-serif" font-weight="bold" font-size="23" fill="#8c8c8e" textLength="104.5" lengthAdjust="spacingAndGlyphs">GDTíMES</text>
<ellipse cx="530" cy="1056" rx="206" ry="5" fill="#c4c4c4" filter="url(#blur3)"/>
<path d="M428 870.5 L634 870.5 Q638 870.5 641 872 C642.5 873.8 646.5 878.3 650.0 883.0 C653.5 887.7 657.3 892.2 662.0 900.0 C666.7 907.8 672.4 921.5 678.0 930.0 C683.6 938.5 689.6 944.9 695.4 951.0 C701.2 957.1 706.9 960.9 713.0 966.7 C719.1 972.5 726.8 980.8 732.0 986.0 C737.2 991.2 741.9 994.8 744.4 998.0 C746.9 1001.2 746.6 1003.8 747.0 1005.0 L747 1039 Q747 1054 732 1054 L329 1054 Q314 1054 314 1039 L313.6 1004 C314.1 1002.5 313.9 998.6 316.6 994.7 C319.3 990.8 323.7 986.8 329.7 980.7 C335.7 974.6 344.6 966.5 352.5 958.0 C360.4 949.5 369.4 939.7 377.0 930.0 C384.6 920.3 391.9 907.9 398.0 900.0 C404.1 892.1 409.9 887.4 413.7 882.7 C417.5 878.0 419.8 873.8 421.0 872.0 Q424 870.5 428 870.5 Z" fill="url(#basetop)"/>
<path d="M641 872 C642.5 873.8 646.5 878.3 650.0 883.0 C653.5 887.7 657.3 892.2 662.0 900.0 C666.7 907.8 672.4 921.5 678.0 930.0 C683.6 938.5 689.6 944.9 695.4 951.0 C701.2 957.1 706.9 960.9 713.0 966.7 C719.1 972.5 726.8 980.8 732.0 986.0 C737.2 991.2 741.9 994.8 744.4 998.0 C746.9 1001.2 746.6 1003.8 747.0 1005.0 L722 1001 Q690 966 666 934 Q650 908 634 876 Z" fill="#d6d6d6" opacity="0.7" filter="url(#blur1)"/>
<path d="M313.6 1004 C314.1 1002.5 313.9 998.6 316.6 994.7 C319.3 990.8 323.7 986.8 329.7 980.7 C335.7 974.6 344.6 966.5 352.5 958.0 C360.4 949.5 369.4 939.7 377.0 930.0 C384.6 920.3 391.9 907.9 398.0 900.0 C404.1 892.1 409.9 887.4 413.7 882.7 C417.5 878.0 419.8 873.8 421.0 872.0 L430 876 Q412 904 396 928 Q372 962 338 1001 Z" fill="#f6f6f6" opacity="0.75" filter="url(#blur1)"/>
<path d="M427 870.5 L635 870.5 Q644 871 650 883 L664 906 L398 906 L413 883 Q418 871 427 870.5 Z" fill="url(#plate)"/>
<path d="M314 1004 Q320 1000 340 1000 L722 1000 Q741 1000 747 1004 L747 1039 Q747 1054 732 1054 L326 1054 Q314 1054 314 1042 Z" fill="url(#basefront)"/>
<path d="M314 1004 Q320 1000 340 1000 L722 1000 Q741 1000 747 1004 L747 1039 Q747 1054 732 1054 L326 1054 Q314 1054 314 1042 Z" fill="url(#frontshade)"/>
<rect x="488" y="875" width="96" height="23" rx="10" fill="#e4edf9" filter="url(#blur2)"/>
<ellipse cx="574" cy="887.5" rx="9" ry="8" fill="#f8fafd"/>
<rect x="472" y="867.3" width="117" height="2.6" fill="#c2c2c0"/>
<rect x="405.5" y="1033" width="5" height="19" fill="#b2b2b2"/><rect x="406.5" y="1042" width="3" height="9.5" fill="#d2d2d2"/><rect x="416.1" y="1033" width="5" height="19" fill="#b2b2b2"/><rect x="417.1" y="1042" width="3" height="9.5" fill="#d2d2d2"/><rect x="426.8" y="1033" width="5" height="19" fill="#b2b2b2"/><rect x="427.8" y="1042" width="3" height="9.5" fill="#d2d2d2"/><rect x="437.4" y="1033" width="5" height="19" fill="#b2b2b2"/><rect x="438.4" y="1042" width="3" height="9.5" fill="#d2d2d2"/><rect x="448.0" y="1033" width="5" height="19" fill="#b2b2b2"/><rect x="449.0" y="1042" width="3" height="9.5" fill="#d2d2d2"/><rect x="458.6" y="1033" width="5" height="19" fill="#b2b2b2"/><rect x="459.6" y="1042" width="3" height="9.5" fill="#d2d2d2"/><rect x="469.3" y="1033" width="5" height="19" fill="#b2b2b2"/><rect x="470.3" y="1042" width="3" height="9.5" fill="#d2d2d2"/><rect x="479.9" y="1033" width="5" height="19" fill="#b2b2b2"/><rect x="480.9" y="1042" width="3" height="9.5" fill="#d2d2d2"/><rect x="490.5" y="1033" width="5" height="19" fill="#b2b2b2"/><rect x="491.5" y="1042" width="3" height="9.5" fill="#d2d2d2"/><rect x="501.2" y="1033" width="5" height="19" fill="#b2b2b2"/><rect x="502.2" y="1042" width="3" height="9.5" fill="#d2d2d2"/><rect x="511.8" y="1033" width="5" height="19" fill="#b2b2b2"/><rect x="512.8" y="1042" width="3" height="9.5" fill="#d2d2d2"/><rect x="522.4" y="1033" width="5" height="19" fill="#b2b2b2"/><rect x="523.4" y="1042" width="3" height="9.5" fill="#d2d2d2"/><rect x="533.1" y="1033" width="5" height="19" fill="#b2b2b2"/><rect x="534.1" y="1042" width="3" height="9.5" fill="#d2d2d2"/><rect x="543.7" y="1033" width="5" height="19" fill="#b2b2b2"/><rect x="544.7" y="1042" width="3" height="9.5" fill="#d2d2d2"/><rect x="554.3" y="1033" width="5" height="19" fill="#b2b2b2"/><rect x="555.3" y="1042" width="3" height="9.5" fill="#d2d2d2"/><rect x="565.0" y="1033" width="5" height="19" fill="#b2b2b2"/><rect x="566.0" y="1042" width="3" height="9.5" fill="#d2d2d2"/><rect x="575.6" y="1033" width="5" height="19" fill="#b2b2b2"/><rect x="576.6" y="1042" width="3" height="9.5" fill="#d2d2d2"/><rect x="586.2" y="1033" width="5" height="19" fill="#b2b2b2"/><rect x="587.2" y="1042" width="3" height="9.5" fill="#d2d2d2"/><rect x="596.8" y="1033" width="5" height="19" fill="#b2b2b2"/><rect x="597.8" y="1042" width="3" height="9.5" fill="#d2d2d2"/><rect x="607.5" y="1033" width="5" height="19" fill="#b2b2b2"/><rect x="608.5" y="1042" width="3" height="9.5" fill="#d2d2d2"/><rect x="618.1" y="1033" width="5" height="19" fill="#b2b2b2"/><rect x="619.1" y="1042" width="3" height="9.5" fill="#d2d2d2"/><rect x="628.7" y="1033" width="5" height="19" fill="#b2b2b2"/><rect x="629.7" y="1042" width="3" height="9.5" fill="#d2d2d2"/><rect x="639.4" y="1033" width="5" height="19" fill="#b2b2b2"/><rect x="640.4" y="1042" width="3" height="9.5" fill="#d2d2d2"/><rect x="650.0" y="1033" width="5" height="19" fill="#b2b2b2"/><rect x="651.0" y="1042" width="3" height="9.5" fill="#d2d2d2"/>
<path d="M462 898.8 L601 898.8 Q615.5 898.8 620 911.5 L641.5 967.5 Q649 991.5 627 991.5 L434 991.5 Q412 991.5 419.5 967.5 L443 911.5 Q447.5 898.8 462 898.8 Z" fill="#f9fbf2"/>
<path d="M462 900 L601 900 Q612.8 900 617 912.5 L638.5 968.5 Q645 988.5 627 988.5 L434 988.5 Q416 988.5 422.5 968.5 L446 912.5 Q450.2 900 462 900 Z" fill="url(#panel)"/>
<text x="464" y="920.7" font-family="Liberation Sans, sans-serif" font-weight="bold" font-size="12.4" fill="#1c2a14" textLength="51.7" lengthAdjust="spacingAndGlyphs">GDTíMES</text>
<text x="530.8" y="920" font-family="Liberation Sans, sans-serif" font-weight="bold" font-size="7.6" fill="#355220" textLength="65" lengthAdjust="spacingAndGlyphs">AC 110-240V 50/60Hz</text>
<rect x="456.5" y="934" width="46.5" height="12" rx="6" fill="#a6a7a0"/>
<rect x="541.3" y="933" width="36.5" height="14" rx="1.5" fill="#a6a7a0"/>
<rect x="583" y="934.8" width="22" height="11" rx="5.5" fill="#a6a7a0"/>
<text x="472.0" y="953.3" font-family="Liberation Sans, sans-serif" font-weight="bold" font-size="5" fill="#182c0c" textLength="9.5" lengthAdjust="spacingAndGlyphs">6V OUT</text>
<text x="552.0" y="953.3" font-family="Liberation Sans, sans-serif" font-weight="bold" font-size="5" fill="#182c0c" textLength="15.0" lengthAdjust="spacingAndGlyphs">5V OUT</text>
<text x="590.0" y="953.3" font-family="Liberation Sans, sans-serif" font-weight="bold" font-size="5" fill="#182c0c" textLength="10.5" lengthAdjust="spacingAndGlyphs">9V IN</text>
<text x="464.0" y="967.0" font-family="Liberation Sans, sans-serif" font-weight="bold" font-size="5" fill="#182c0c" textLength="11.5" lengthAdjust="spacingAndGlyphs">POWER</text>
<text x="486.7" y="960.0" font-family="Liberation Sans, sans-serif" font-weight="bold" font-size="5" fill="#182c0c" textLength="15.1" lengthAdjust="spacingAndGlyphs">ON/OFF</text>
<text x="518.7" y="964.4" font-family="Liberation Sans, sans-serif" font-weight="bold" font-size="5" fill="#182c0c" textLength="11.7" lengthAdjust="spacingAndGlyphs">TURN</text>
<text x="550.6" y="964.4" font-family="Liberation Sans, sans-serif" font-weight="bold" font-size="5" fill="#182c0c" textLength="6.9" lengthAdjust="spacingAndGlyphs">LED</text>
<text x="568.7" y="967.0" font-family="Liberation Sans, sans-serif" font-weight="bold" font-size="5" fill="#182c0c" textLength="16.7" lengthAdjust="spacingAndGlyphs">CHARGE</text>
<path d="M492.5 960.5 L494.3 964 L496 960.5" stroke="#2f4a1c" stroke-width="0.8" fill="none"/>
<ellipse cx="495.3" cy="970.2" rx="8.6" ry="6.2" fill="#fbfbf5" stroke="#d9edbc" stroke-width="1"/>
<ellipse cx="524.3" cy="970.2" rx="8.6" ry="6.2" fill="#fbfbf5" stroke="#d9edbc" stroke-width="1"/>
<ellipse cx="554.0" cy="970.2" rx="8.6" ry="6.2" fill="#fbfbf5" stroke="#d9edbc" stroke-width="1"/>
<ellipse cx="472.3" cy="971.3" rx="3" ry="2.2" fill="#4c3a2c"/>
<ellipse cx="576.8" cy="971.3" rx="3" ry="2.2" fill="#4c3a2c"/>
<g stroke="#c51517" stroke-width="2.8" fill="none" stroke-linejoin="miter">
<path d="M338 885.7 H516.5"/>
<path d="M301 946.3 H478.5"/>
<path d="M218 1012.4 H472.3 V970"/>
<path d="M290 1096 H494.2 V971"/>
<path d="M524.3 970 V1107"/>
<path d="M553.2 969 V1039.7 H758"/>
<path d="M577 971.3 H768"/>
<path d="M597.4 939 V892.4 H733.5"/>
<path d="M560.4 939.3 V833.2 H665"/>
</g>
<text x="226.8" y="94" font-family="Liberation Sans, sans-serif" font-size="53" fill="#0c0c0c" textLength="268.6" lengthAdjust="spacingAndGlyphs">Parámetros</text>
<text x="507.7" y="94" font-family="Liberation Sans, sans-serif" font-size="53" fill="#0c0c0c" textLength="73.1" lengthAdjust="spacingAndGlyphs">del</text>
<text x="595.4" y="94" font-family="Liberation Sans, sans-serif" font-size="53" fill="#0c0c0c" textLength="217.9" lengthAdjust="spacingAndGlyphs">producto</text>
<text x="225.5" y="890.5" font-family="Liberation Sans, sans-serif" font-size="24.6" fill="#141414" textLength="93.0" lengthAdjust="spacingAndGlyphs">Luz LED</text>
<text x="188.5" y="953.0" font-family="Liberation Sans, sans-serif" font-size="24.6" fill="#141414" textLength="102.2" lengthAdjust="spacingAndGlyphs">6V salida</text>
<text x="46.0" y="1004.5" font-family="Liberation Sans, sans-serif" font-size="24.6" fill="#141414" textLength="143.0" lengthAdjust="spacingAndGlyphs">Indicador de</text>
<text x="47.5" y="1031.4" font-family="Liberation Sans, sans-serif" font-size="24.6" fill="#141414" textLength="79.0" lengthAdjust="spacingAndGlyphs">trabajo</text>
<text x="99.0" y="1101.9" font-family="Liberation Sans, sans-serif" font-size="24.6" fill="#141414" textLength="191.5" lengthAdjust="spacingAndGlyphs">Abierto/apagado</text>
<text x="399.5" y="1138.8" font-family="Liberation Sans, sans-serif" font-size="24.6" fill="#141414" textLength="238.7" lengthAdjust="spacingAndGlyphs">Interruptor giratorio</text>
<text x="673.5" y="845.7" font-family="Liberation Sans, sans-serif" font-size="24.6" fill="#141414" textLength="154.8" lengthAdjust="spacingAndGlyphs">Salida 5VUSB</text>
<text x="743.0" y="901.7" font-family="Liberation Sans, sans-serif" font-size="24.6" fill="#141414" textLength="161.0" lengthAdjust="spacingAndGlyphs">Entrada de 9V</text>
<text x="773.7" y="978.1" font-family="Liberation Sans, sans-serif" font-size="24.6" fill="#141414" textLength="212.6" lengthAdjust="spacingAndGlyphs">Indicador de carga</text>
<text x="764.4" y="1048.2" font-family="Liberation Sans, sans-serif" font-size="24.6" fill="#141414" textLength="177.6" lengthAdjust="spacingAndGlyphs">Interruptor LED</text>
</svg>
</body></html>
